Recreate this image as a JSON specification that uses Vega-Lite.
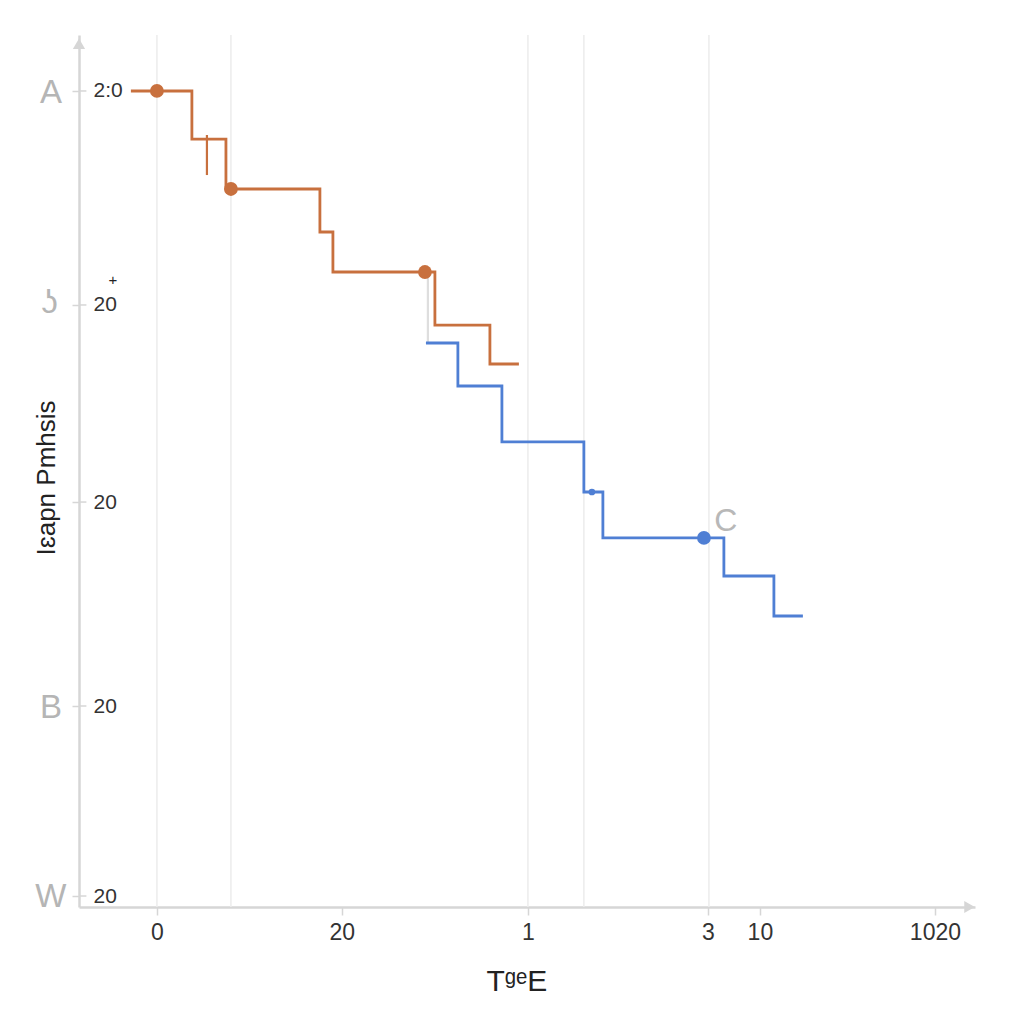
{
  "$schema": "https://vega.github.io/schema/vega-lite/v6.json",
  "autosize": "none",
  "width": 896,
  "height": 872,
  "padding": {"left": 79, "top": 35, "right": 49, "bottom": 117},
  "background": "#ffffff",
  "config": {"view": {"stroke": null}},
  "datasets": {
    "lines": [
      {"series": "orange", "x": -3.34, "y": 93.58},
      {"series": "orange", "x": 4.49, "y": 88.07},
      {"series": "orange", "x": 8.86, "y": 82.34},
      {"series": "orange", "x": 20.92, "y": 77.41},
      {"series": "orange", "x": 22.59, "y": 72.82},
      {"series": "orange", "x": 35.68, "y": 66.74},
      {"series": "orange", "x": 42.74, "y": 62.27},
      {"series": "orange", "x": 46.46, "y": 62.27},
      {"series": "blue", "x": 34.53, "y": 64.68},
      {"series": "blue", "x": 38.63, "y": 59.75},
      {"series": "blue", "x": 44.28, "y": 53.33},
      {"series": "blue", "x": 54.8, "y": 47.59},
      {"series": "blue", "x": 57.24, "y": 42.32},
      {"series": "blue", "x": 72.77, "y": 37.96},
      {"series": "blue", "x": 79.19, "y": 33.37},
      {"series": "blue", "x": 82.91, "y": 33.37}
    ],
    "dots": [
      {"series": "orange", "x": 0, "y": 93.58},
      {"series": "orange", "x": 9.5, "y": 82.34},
      {"series": "orange", "x": 34.4, "y": 72.82},
      {"series": "blue", "x": 70.21, "y": 42.32}
    ],
    "grid": [
      {"x": 0, "y": 0, "y2": 100},
      {"x": 9.5, "y": 0, "y2": 100},
      {"x": 47.62, "y": 0, "y2": 100},
      {"x": 54.8, "y": 0, "y2": 100},
      {"x": 70.85, "y": 0, "y2": 100}
    ],
    "segments": [
      {"series": "orange", "x": 6.42, "y": 88.53, "y2": 83.94},
      {"series": "gray", "x": 34.78, "y": 72.82, "y2": 64.68}
    ],
    "yticks": [
      {"x": -10, "x2": -9.05, "y": 93.58},
      {"x": -10, "x2": -9.05, "y": 69.04},
      {"x": -10, "x2": -9.05, "y": 46.44},
      {"x": -10, "x2": -9.05, "y": 23.05},
      {"x": -10, "x2": -9.05, "y": 1.26}
    ],
    "blip": [{"series": "blue", "x": 55.83, "y": 47.59}],
    "letters": [
      {"label": "A", "x": -13.6, "y": 93.4},
      {"label": "ʖ", "x": -13.8, "y": 69.3},
      {"label": "B", "x": -13.6, "y": 22.8},
      {"label": "W", "x": -13.6, "y": 1.1}
    ],
    "cLabel": [{"label": "C", "x": 73.0, "y": 44.3}],
    "plus": [{"label": "+", "x": -5.65, "y": 71.9}],
    "ytitle": [{"label": "Iɛapn Pmhsis", "x": -14.1, "y": 49.2}],
    "xtitle": [{"label": "TᵍᵉE", "x": 46.2, "y": -8.6}],
    "arrows": [
      {"dir": "up", "x": -10, "y": 99.0},
      {"dir": "right", "x": 104.3, "y": 0}
    ]
  },
  "encoding": {
    "x": {
      "field": "x", "type": "quantitative",
      "scale": {"domain": [-10, 105], "nice": false, "zero": false},
      "axis": {
        "title": null, "grid": false,
        "values": [0, 23.74, 47.62, 70.72, 77.39, 99.86],
        "labelExpr": "datum.value < 1 ? '0' : datum.value < 30 ? '20' : datum.value < 50 ? '1' : datum.value < 75 ? '3' : datum.value < 90 ? '10' : '1020'",
        "domainColor": "#d6d6d6", "domainWidth": 2.5,
        "tickColor": "#d6d6d6", "tickSize": 8, "tickWidth": 1.5,
        "labelFont": "Liberation Sans", "labelFontSize": 23, "labelColor": "#333333",
        "labelPadding": 6, "labelFlush": false, "labelOverlap": false
      }
    },
    "y": {
      "field": "y", "type": "quantitative",
      "scale": {"domain": [0, 100], "nice": false, "zero": false},
      "axis": {
        "title": null, "grid": false,
        "values": [93.58, 69.04, 46.44, 23.05, 1.26],
        "labelExpr": "datum.value > 90 ? '2:0' : '20'",
        "domainColor": "#d6d6d6", "domainWidth": 2.5,
        "tickColor": "#d6d6d6", "tickSize": 7, "tickWidth": 1.5,
        "labelAlign": "left", "labelBaseline": "middle", "labelPadding": -21,
        "labelFont": "Liberation Sans", "labelFontSize": 21, "labelColor": "#333333",
        "labelFlush": false, "labelOverlap": false
      }
    }
  },
  "layer": [
    {
      "data": {"name": "grid"},
      "mark": {"type": "rule", "color": "#ececec", "strokeWidth": 1.5},
      "encoding": {"y2": {"field": "y2"}}
    },
    {
      "data": {"name": "yticks"},
      "mark": {"type": "rule", "color": "#d6d6d6", "strokeWidth": 1.5, "clip": false},
      "encoding": {"x2": {"field": "x2"}}
    },
    {
      "data": {"name": "segments"},
      "mark": {"type": "rule", "strokeWidth": 2.2},
      "encoding": {
        "y2": {"field": "y2"},
        "color": {"field": "series", "type": "nominal", "scale": {"domain": ["orange", "blue", "gray"], "range": ["#c8703e", "#4f7fd4", "#dedede"]}, "legend": null}
      }
    },
    {
      "data": {"name": "lines"},
      "mark": {"type": "line", "interpolate": "step-after", "strokeWidth": 2.8},
      "encoding": {
        "color": {"field": "series", "type": "nominal", "legend": null}
      }
    },
    {
      "data": {"name": "dots"},
      "mark": {"type": "point", "filled": true, "opacity": 1, "size": 190},
      "encoding": {
        "color": {"field": "series", "type": "nominal", "legend": null}
      }
    },
    {
      "data": {"name": "blip"},
      "mark": {"type": "point", "filled": true, "opacity": 1, "size": 45},
      "encoding": {
        "color": {"field": "series", "type": "nominal", "legend": null}
      }
    },
    {
      "data": {"name": "arrows"},
      "mark": {"type": "point", "filled": true, "opacity": 1, "size": 150, "color": "#d6d6d6", "clip": false},
      "encoding": {
        "shape": {"field": "dir", "type": "nominal", "scale": {"domain": ["up", "right"], "range": ["triangle-up", "triangle-right"]}, "legend": null}
      }
    },
    {
      "data": {"name": "letters"},
      "mark": {"type": "text", "font": "Liberation Sans", "fontSize": 33, "color": "#b5b5b5", "align": "center", "baseline": "middle"},
      "encoding": {"text": {"field": "label"}}
    },
    {
      "data": {"name": "cLabel"},
      "mark": {"type": "text", "font": "Liberation Sans", "fontSize": 32, "color": "#b8b8b8", "align": "center", "baseline": "middle"},
      "encoding": {"text": {"field": "label"}}
    },
    {
      "data": {"name": "plus"},
      "mark": {"type": "text", "font": "Liberation Sans", "fontSize": 15, "color": "#222222", "align": "center", "baseline": "middle"},
      "encoding": {"text": {"field": "label"}}
    },
    {
      "data": {"name": "ytitle"},
      "mark": {"type": "text", "font": "Liberation Sans", "fontSize": 26, "color": "#222222", "align": "center", "baseline": "middle", "angle": 270},
      "encoding": {"text": {"field": "label"}}
    },
    {
      "data": {"name": "xtitle"},
      "mark": {"type": "text", "font": "Liberation Sans", "fontSize": 30, "color": "#222222", "align": "center", "baseline": "middle"},
      "encoding": {"text": {"field": "label"}}
    }
  ]
}
